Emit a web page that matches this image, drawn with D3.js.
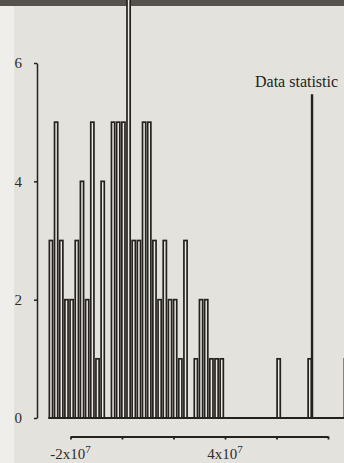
<!DOCTYPE html>
<html>
<head>
<meta charset="utf-8">
<script src="https://cdn.jsdelivr.net/npm/d3@7"></script>
<style>
  html, body { margin: 0; padding: 0; background: #e4e2dd; }
  svg { display: block; }
  .axis text { font-family: "Liberation Serif", "DejaVu Serif", serif; fill: #2e2b28; }
</style>
</head>
<body>
<svg id="chart"></svg>
<script>
// --- Dados (contagens por classe do histograma) ---
const binStart = -2.86e7;     // limite inferior da primeira classe
const binWidth = 2.01e6;      // largura de cada classe
const counts = [
  3, 5, 3, 2, 2, 3, 4, 2, 5, 1,
  4, 0, 5, 5, 5, 8, 3, 3, 5, 5,
  3, 2, 3, 2, 2, 1, 3, 0, 1, 2,
  2, 1, 1, 1, 0, 0, 0, 0, 0, 0,
  0, 0, 0, 0, 1, 0, 0, 0, 0, 0,
  1, 0, 0, 0, 0, 0, 0, 1
];
const yTicks = [0, 2, 4, 6];
const xTicks = [-2e7, 0, 2e7, 4e7, 6e7, 8e7];
const xLabelTicks = [-2e7, 4e7];
const dataStatistic = 7.38e7;
const dataStatisticTop = 5.47;

// --- Configurações ---
const W = 344, H = 463;
const ink = "#24211e";

const svg = d3.select("#chart").attr("width", W).attr("height", H);

// fundo do papel
svg.append("rect").attr("width", W).attr("height", H).attr("fill", "#e4e2dd");
svg.append("rect").attr("width", 14).attr("height", H).attr("fill", "#efeeeb");
svg.append("rect").attr("width", W).attr("height", 6).attr("fill", "#55524e");

// --- Escalas ---
const x = d3.scaleLinear().domain([-2e7, 8e7]).range([70.5, 328]);
const y = d3.scaleLinear().domain([0, 6]).range([418, 63]);

const bins = counts.map((c, i) => ({
  x0: binStart + i * binWidth,
  x1: binStart + (i + 1) * binWidth,
  count: c
}));

// --- Barras (contornos duplos) ---
svg.append("g")
  .selectAll("rect")
  .data(bins.filter(d => d.count > 0))
  .join("rect")
  .attr("x", d => x(d.x0) + 1)
  .attr("width", d => x(d.x1) - x(d.x0) - 2)
  .attr("y", d => y(d.count))
  .attr("height", d => y(0) - y(d.count))
  .attr("fill", "#eceae5")
  .attr("stroke", ink)
  .attr("stroke-width", 1.7);

// linha de base
svg.append("line")
  .attr("x1", x(binStart)).attr("x2", W)
  .attr("y1", y(0)).attr("y2", y(0))
  .attr("stroke", ink).attr("stroke-width", 1.8);

// --- Estatística dos dados ---
svg.append("line")
  .attr("x1", x(dataStatistic)).attr("x2", x(dataStatistic))
  .attr("y1", y(dataStatisticTop)).attr("y2", y(0))
  .attr("stroke", ink).attr("stroke-width", 2.4);

svg.append("text")
  .attr("x", 255).attr("y", 87)
  .attr("font-family", "Liberation Serif, serif")
  .attr("font-size", 16)
  .attr("fill", "#221f1c")
  .text("Data statistic");

// --- Eixo Y ---
const yAxis = svg.append("g")
  .attr("class", "axis")
  .attr("transform", "translate(37,0)")
  .call(d3.axisLeft(y).tickValues(yTicks).tickFormat(d3.format("d"))
    .tickSize(3).tickSizeOuter(0).tickPadding(12));
yAxis.selectAll("text").attr("font-size", 15);
yAxis.selectAll("path, line").attr("stroke", ink).attr("stroke-width", 1.5);

// --- Eixo X (separado, abaixo) ---
const xAxis = svg.append("g")
  .attr("class", "axis")
  .attr("transform", "translate(0,436.5)")
  .call(d3.axisBottom(x).tickValues(xTicks).tickSize(3).tickSizeOuter(0).tickFormat(""));
xAxis.selectAll("path, line").attr("stroke", ink).attr("stroke-width", 1.8);

const xl = svg.append("g").attr("class", "axis")
  .selectAll("text")
  .data(xLabelTicks)
  .join("text")
  .attr("x", d => x(d))
  .attr("y", 459)
  .attr("text-anchor", "middle")
  .attr("font-size", 15);
xl.append("tspan").text(d => (d / 1e7) + "x10");
xl.append("tspan").attr("dy", -6).attr("font-size", 11).text("7");
</script>
</body>
</html>
